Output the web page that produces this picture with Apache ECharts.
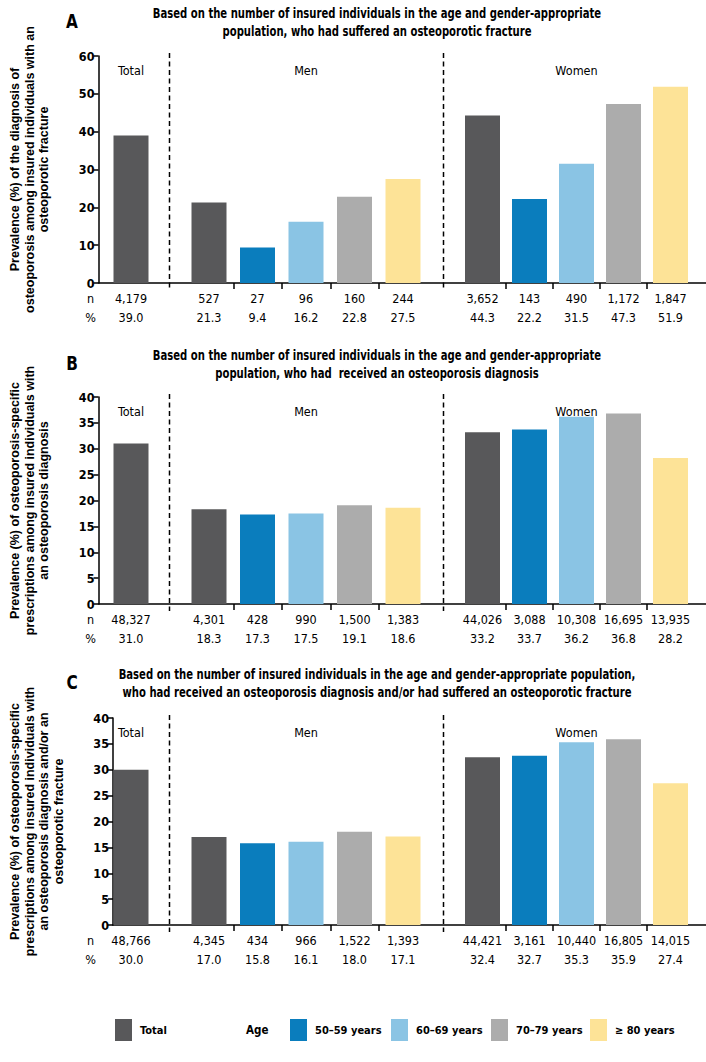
<!DOCTYPE html>
<html>
<head>
<meta charset="utf-8">
<script src="https://cdn.jsdelivr.net/npm/echarts@6/dist/echarts.min.js"></script>
<style>html,body{margin:0;padding:0;background:#fff;}#main{width:706px;height:1062px;}</style>
</head>
<body>
<div id="main"></div>
<script>
// ---------- DATA ----------
const categories = ['Total', '50–59 years', '60–69 years', '70–79 years', '≥ 80 years'];

const totalA = 39.0, totalNA = '4,179';
const menA = [21.3, 9.4, 16.2, 22.8, 27.5];
const menNA = ['527', '27', '96', '160', '244'];
const womenA = [44.3, 22.2, 31.5, 47.3, 51.9];
const womenNA = ['3,652', '143', '490', '1,172', '1,847'];

const totalB = 31.0, totalNB = '48,327';
const menB = [18.3, 17.3, 17.5, 19.1, 18.6];
const menNB = ['4,301', '428', '990', '1,500', '1,383'];
const womenB = [33.2, 33.7, 36.2, 36.8, 28.2];
const womenNB = ['44,026', '3,088', '10,308', '16,695', '13,935'];

const totalC = 30.0, totalNC = '48,766';
const menC = [17.0, 15.8, 16.1, 18.0, 17.1];
const menNC = ['4,345', '434', '966', '1,522', '1,393'];
const womenC = [32.4, 32.7, 35.3, 35.9, 27.4];
const womenNC = ['44,421', '3,161', '10,440', '16,805', '14,015'];

const titleA = ['Based on the number of insured individuals in the age and gender-appropriate', 'population, who had suffered an osteoporotic fracture'];
const titleB = ['Based on the number of insured individuals in the age and gender-appropriate', 'population, who had  received an osteoporosis diagnosis'];
const titleC = ['Based on the number of insured individuals in the age and gender-appropriate population,', 'who had received an osteoporosis diagnosis and/or had suffered an osteoporotic fracture'];
const yNameA = 'Prevalence (%) of the diagnosis of\nosteoporosis among insured individuals with an\nosteoporotic fracture';
const yNameB = 'Prevalence (%) of osteoporosis-specific\nprescriptions among insured individuals with\nan osteoporosis diagnosis';
const yNameC = 'Prevalence (%) of osteoporosis-specific\nprescriptions among insured individuals with\nan osteoporosis diagnosis and/or an\nosteoporotic fracture';

// ---------- STYLE ----------
const COLORS = ['#58585a', '#0a7dbd', '#8ac4e4', '#acacac', '#fde397'];
const NARROW = "'Liberation Sans Narrow','DejaVu Sans Condensed',sans-serif";
const ARIAL = "'Liberation Sans',Arial,sans-serif";

const panels = [
  {letter: 'A', title: titleA, yName: yNameA, total: totalA, totalN: totalNA, men: menA, menN: menNA, women: womenA, womenN: womenNA, max: 60, interval: 10, top: 56, height: 227, titleY: 13},
  {letter: 'B', title: titleB, yName: yNameB, total: totalB, totalN: totalNB, men: menB, menN: menNB, women: womenB, womenN: womenNB, max: 40, interval: 5, top: 397, height: 207, titleY: 355},
  {letter: 'C', title: titleC, yName: yNameC, total: totalC, totalN: totalNC, men: menC, menN: menNC, women: womenC, womenN: womenNC, max: 40, interval: 5, top: 718, height: 207, titleY: 674}
];

const grids = [], xAxes = [], yAxes = [], series = [], graphics = [];
const blackLine = {color: '#000', width: 1.5};
const labelStyle = {fontFamily: NARROW, fontSize: 12.5, color: '#000', lineHeight: 19, margin: 6, interval: 0};

panels.forEach((p, pi) => {
  const g0 = grids.length;
  const gTop = p.top, gH = p.height;
  grids.push({left: 92, right: 0, top: gTop, height: gH});
  grids.push({left: 92, width: 78, top: gTop, height: gH});
  grids.push({left: 184.75, width: 242.5, top: gTop, height: gH});
  grids.push({left: 459, width: 235, top: gTop, height: gH});

  const yBase = yAxes.length;
  yAxes.push({gridIndex: g0, type: 'value', min: 0, max: p.max, interval: p.interval,
    axisLine: {show: true, lineStyle: blackLine}, axisTick: {show: true, length: 5, lineStyle: blackLine},
    axisLabel: {fontFamily: NARROW, fontWeight: 'bold', fontSize: 12.5, color: '#000', margin: 4},
    splitLine: {show: false},
    name: p.yName, nameLocation: 'middle', nameRotate: 90, nameGap: 47,
    nameTextStyle: {fontFamily: ARIAL, fontWeight: 'bold', fontSize: 12.5, color: '#000', lineHeight: 14.5, align: 'center'}});
  for (let k = 1; k <= 3; k++) {
    yAxes.push({gridIndex: g0 + k, type: 'value', min: 0, max: p.max, interval: p.interval, show: false});
  }

  const xBase = xAxes.length;
  // full-width axis line
  xAxes.push({gridIndex: g0, type: 'value', min: 0, max: 1, position: 'bottom',
    axisLine: {show: true, onZero: false, lineStyle: blackLine},
    axisTick: {show: false}, axisLabel: {show: false}, splitLine: {show: false}});
  // total
  xAxes.push({gridIndex: g0 + 1, type: 'category', data: [categories[0]], position: 'bottom',
    axisLine: {show: false}, axisTick: {show: false},
    axisLabel: Object.assign({}, labelStyle, {formatter: () => p.totalN + '\n' + p.total.toFixed(1)})});
  // men
  xAxes.push({gridIndex: g0 + 2, type: 'category', data: categories, position: 'bottom',
    axisLine: {show: false}, axisTick: {show: false},
    axisLabel: Object.assign({}, labelStyle, {formatter: (v, i) => p.menN[i] + '\n' + p.men[i].toFixed(1)})});
  xAxes.push({gridIndex: g0 + 2, type: 'category', boundaryGap: false, data: ['b0', 'b1', 'b2', 'b3', 'b4', 'b5'],
    position: 'bottom', axisLine: {show: false, onZero: false}, axisLabel: {show: false},
    axisTick: {show: true, length: 6, lineStyle: blackLine, interval: (i) => i > 0 && i < 5}});
  // women
  xAxes.push({gridIndex: g0 + 3, type: 'category', data: categories, position: 'bottom',
    axisLine: {show: false}, axisTick: {show: false},
    axisLabel: Object.assign({}, labelStyle, {formatter: (v, i) => p.womenN[i] + '\n' + p.women[i].toFixed(1)})});
  xAxes.push({gridIndex: g0 + 3, type: 'category', boundaryGap: false, data: ['b0', 'b1', 'b2', 'b3', 'b4', 'b5'],
    position: 'bottom', axisLine: {show: false, onZero: false}, axisLabel: {show: false},
    axisTick: {show: true, length: 6, lineStyle: blackLine, interval: (i) => i > 0 && i < 5}});

  series.push({type: 'bar', name: categories[0], xAxisIndex: xBase + 1, yAxisIndex: yBase + 1,
    data: [p.total], barWidth: 35, itemStyle: {color: COLORS[0]}, silent: true});
  [['men', xBase + 2, yBase + 2], ['women', xBase + 4, yBase + 3]].forEach(([key, xi, yi]) => {
    categories.forEach((c, k) => {
      series.push({type: 'bar', name: c, xAxisIndex: xi, yAxisIndex: yi, stack: key + pi,
        data: p[key].map((v, i) => (i === k ? v : '-')), barWidth: 35,
        itemStyle: {color: COLORS[k]}, silent: true});
    });
  });

  const axisY = gTop + gH;
  // dashed separators
  [169.5, 443.5].forEach(x => {
    graphics.push({type: 'line', silent: true, shape: {x1: x, y1: gTop - 3, x2: x, y2: axisY + 7},
      style: {stroke: '#000', lineWidth: 1.5, lineDash: [5, 3.5]}});
  });
  // group headers
  [['Total', 131], ['Men', 306], ['Women', 576.5]].forEach(([t, x]) => {
    graphics.push({type: 'text', silent: true, x: x, y: gTop + 14,
      style: {text: t, fontFamily: NARROW, fontSize: 12.5, fill: '#000', align: 'center', verticalAlign: 'middle'}});
  });
  // row headers
  [['n', 15.5], ['%', 34.5]].forEach(([t, dy]) => {
    graphics.push({type: 'text', silent: true, x: 90.5, y: axisY + dy,
      style: {text: t, fontFamily: NARROW, fontSize: 12.5, fill: '#000', align: 'center', verticalAlign: 'middle'}});
  });
  // panel title (condensed by horizontal scaling)
  p.title.forEach((line, li) => {
    graphics.push({type: 'text', silent: true, x: 377, y: p.titleY + li * 18.5, scaleX: 0.8,
      style: {text: line, fontFamily: NARROW, fontWeight: 'bold', fontSize: 14, fill: '#000', align: 'center', verticalAlign: 'middle'}});
  });
  graphics.push({type: 'text', silent: true, x: 72, y: p.titleY + 8, scaleX: 0.85,
    style: {text: p.letter, fontFamily: NARROW, fontWeight: 'bold', fontSize: 20, fill: '#000', align: 'center', verticalAlign: 'middle'}});
});

graphics.push({type: 'text', silent: true, x: 246, y: 1030,
  style: {text: 'Age', fontFamily: NARROW, fontWeight: 'bold', fontSize: 11.5, fill: '#000', align: 'left', verticalAlign: 'middle'}});

const legendLeft = [115, 290, 391, 491, 590];
const legends = categories.map((c, i) => ({
  data: [c], left: legendLeft[i], top: 1019, padding: 0, itemWidth: 17, itemHeight: 22, icon: 'rect',
  selectedMode: false, textStyle: {fontFamily: NARROW, fontWeight: 'bold', fontSize: 11, color: '#000', padding: [0, 0, 0, 3]}
}));

const chart = echarts.init(document.getElementById('main'), null, {renderer: 'svg', width: 706, height: 1062});
chart.setOption({
  animation: false,
  backgroundColor: '#fff',
  legend: legends,
  grid: grids,
  xAxis: xAxes,
  yAxis: yAxes,
  series: series,
  graphic: graphics
});
</script>
</body>
</html>
